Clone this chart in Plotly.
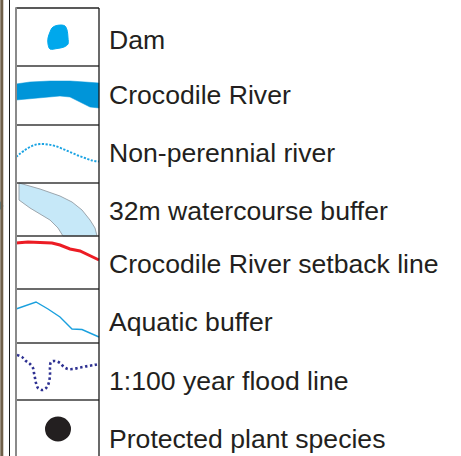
import plotly.graph_objects as go

# ---- data: legend entries ----
labels = [
    "Dam",
    "Crocodile River",
    "Non-perennial river",
    "32m watercourse buffer",
    "Crocodile River setback line",
    "Aquatic buffer",
    "1:100 year flood line",
    "Protected plant species",
]
symbol_kinds = ["dam", "river", "nonperennial", "buffer32", "setback", "aquatic", "flood", "plant"]

# ---- layout geometry (pixels) ----
W, H = 461, 456
CELL_L, CELL_R = 16, 99
ROW_EDGES = [8, 66, 125, 183, 236, 289, 343, 400, 470]
TEXT_X = 107
TEXT_Y = [40, 95, 153, 211, 264, 322, 381, 439]

# icon geometry relative to (cell left, row top)
ICONS = {
    "dam": [(39, 18), (45, 17), (49, 18), (51, 22), (52, 30), (52, 36), (48, 39),
            (41, 40.5), (34, 41), (32, 36), (32, 30), (34, 24), (36, 20), (39, 18)],
    "river": [(0, 18), (14, 16), (34, 15), (54, 15), (69, 16), (83, 17),
              (83, 42), (74, 41), (64, 36), (54, 31), (44, 30), (24, 32), (0, 34), (0, 18)],
    "nonperennial": [(0, 32), (9, 25), (17, 20.5), (24, 19), (32, 19.5), (39, 21), (47, 24),
                     (54, 27), (62, 30.5), (69, 33), (76, 35.5), (83, 36.5)],
    "buffer32": [(3, 0), (24, 6), (44, 13), (56, 19), (66, 27), (74, 37), (79, 45), (81, 53),
                 (47, 53), (42, 45), (34, 37), (24, 31), (14, 25), (3, 17), (3, 0)],
    "setback": [(0, 7), (12, 6), (24, 6.5), (36, 7), (44, 9), (54, 13), (64, 15), (74, 20), (83, 24)],
    "aquatic": [(0, 20), (20, 13), (32, 20), (44, 28), (56, 40), (66, 40.5), (83, 48)],
    "flood": [(1, 12), (6, 14), (10, 18), (14, 21), (17, 25), (18, 30), (19, 35), (20, 40),
              (22, 45), (27, 47), (31, 44), (33, 39), (34, 32), (34, 24), (35, 19), (39, 18),
              (44, 20), (48, 24), (52, 26), (57, 26), (62, 25), (67, 24), (72, 23), (78, 22), (83, 21)],
}

fig = go.Figure()


def pts(kind, row):
    top = ROW_EDGES[row]
    p = ICONS[kind]
    return [CELL_L + a for a, b in p], [top + b for a, b in p]


for i, kind in enumerate(symbol_kinds):
    if kind == "dam":
        xs, ys = pts(kind, i)
        fig.add_trace(go.Scatter(x=xs, y=ys, mode="lines", fill="toself", fillcolor="#00A8EC",
                                 line=dict(color="#00A8EC", width=1, shape="spline"), hoverinfo="skip"))
    elif kind == "river":
        xs, ys = pts(kind, i)
        fig.add_trace(go.Scatter(x=xs, y=ys, mode="lines", fill="toself", fillcolor="#0095D9",
                                 line=dict(color="#0095D9", width=0.5), hoverinfo="skip"))
    elif kind == "nonperennial":
        xs, ys = pts(kind, i)
        fig.add_trace(go.Scatter(x=xs, y=ys, mode="lines",
                                 line=dict(color="#1AA3E3", width=1.9, dash="2.2px,1.5px", shape="spline"),
                                 hoverinfo="skip"))
    elif kind == "buffer32":
        xs, ys = pts(kind, i)
        fig.add_trace(go.Scatter(x=xs, y=ys, mode="lines", fill="toself", fillcolor="#C6E8F8",
                                 line=dict(color="#9CA6AE", width=1), hoverinfo="skip"))
    elif kind == "setback":
        xs, ys = pts(kind, i)
        fig.add_trace(go.Scatter(x=xs, y=ys, mode="lines",
                                 line=dict(color="#EC1C24", width=3), hoverinfo="skip"))
    elif kind == "aquatic":
        xs, ys = pts(kind, i)
        fig.add_trace(go.Scatter(x=xs, y=ys, mode="lines",
                                 line=dict(color="#1AA0DE", width=1.4), hoverinfo="skip"))
    elif kind == "flood":
        xs, ys = pts(kind, i)
        fig.add_trace(go.Scatter(x=xs, y=ys, mode="lines",
                                 line=dict(color="#2E3192", width=2.6, dash="2.4px,2.6px", shape="spline"),
                                 hoverinfo="skip"))
    elif kind == "plant":
        top = ROW_EDGES[i]
        fig.add_shape(type="circle", x0=45, x1=71, y0=top + 16.5, y1=top + 41.5,
                      fillcolor="#231F20", line=dict(color="#231F20", width=0))

# row borders
for j, e in enumerate(ROW_EDGES[:-1]):
    fig.add_shape(type="line", x0=CELL_L, x1=CELL_R, y0=e, y1=e,
                  line=dict(color="#222222" if j == 0 else "#3a3a3a", width=1.5))
# cell side borders
fig.add_shape(type="line", x0=CELL_R, x1=CELL_R, y0=ROW_EDGES[0], y1=H + 5,
              line=dict(color="#1a1a1a", width=1.3))
fig.add_shape(type="line", x0=CELL_L, x1=CELL_L, y0=ROW_EDGES[0] - 0.7, y1=H + 5,
              line=dict(color="#8a8a8a", width=2))
# left frame lines
fig.add_shape(type="line", x0=1.8, x1=1.8, y0=-5, y1=H + 5, line=dict(color="#6E5E48", width=3))
fig.add_shape(type="line", x0=9.5, x1=9.5, y0=-5, y1=H + 5, line=dict(color="#1a1a1a", width=1))
# small blue fragment at left edge
fig.add_trace(go.Scatter(x=[0, 3.5, 0, 0], y=[201, 206, 210, 201], mode="lines", fill="toself",
                         fillcolor="#39A9DC", line=dict(width=0), hoverinfo="skip"))

for lab, ty in zip(labels, TEXT_Y):
    fig.add_annotation(x=TEXT_X, y=ty, text=lab, xanchor="left", yanchor="middle", showarrow=False,
                       font=dict(family="Liberation Sans, Arial, sans-serif", size=26.6, color="#231F20"))

fig.update_layout(
    width=W, height=H, margin=dict(l=0, r=0, t=0, b=0),
    paper_bgcolor="white", plot_bgcolor="white", showlegend=False,
    xaxis=dict(range=[0, W], visible=False, fixedrange=True),
    yaxis=dict(range=[H, 0], visible=False, fixedrange=True),
)
fig.write_html("out.html", config={"displayModeBar": False},
               post_script="document.body.style.margin='0';document.body.style.overflow='hidden';")
